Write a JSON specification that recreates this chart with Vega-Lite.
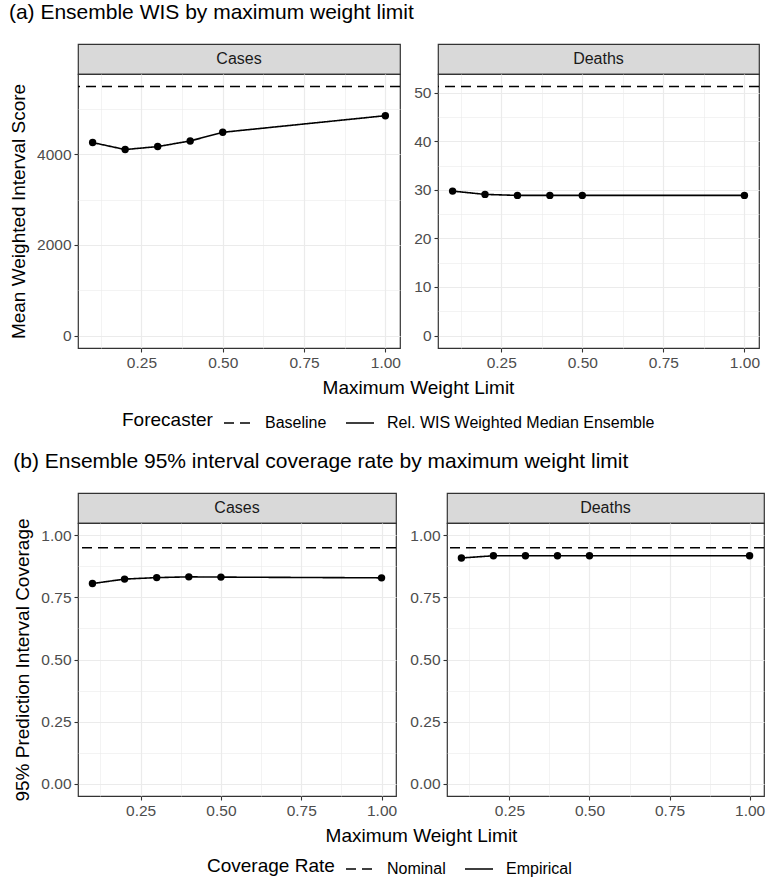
{
  "$schema": "https://vega.github.io/schema/vega-lite/v6.json",
  "background": "white",
  "padding": {"left": 8, "top": 2, "right": 5, "bottom": 0},
  "spacing": 20,
  "datasets": {
    "wis": [
      {"target": "Cases", "forecaster": "Rel. WIS Weighted Median Ensemble", "limit": 0.1, "score": 4257},
      {"target": "Cases", "forecaster": "Rel. WIS Weighted Median Ensemble", "limit": 0.2, "score": 4103},
      {"target": "Cases", "forecaster": "Rel. WIS Weighted Median Ensemble", "limit": 0.3, "score": 4169},
      {"target": "Cases", "forecaster": "Rel. WIS Weighted Median Ensemble", "limit": 0.4, "score": 4293},
      {"target": "Cases", "forecaster": "Rel. WIS Weighted Median Ensemble", "limit": 0.5, "score": 4484},
      {"target": "Cases", "forecaster": "Rel. WIS Weighted Median Ensemble", "limit": 1.0, "score": 4850},
      {"target": "Cases", "forecaster": "Baseline", "limit": null, "score": 5495},
      {"target": "Deaths", "forecaster": "Rel. WIS Weighted Median Ensemble", "limit": 0.1, "score": 29.75},
      {"target": "Deaths", "forecaster": "Rel. WIS Weighted Median Ensemble", "limit": 0.2, "score": 29.07},
      {"target": "Deaths", "forecaster": "Rel. WIS Weighted Median Ensemble", "limit": 0.3, "score": 28.86},
      {"target": "Deaths", "forecaster": "Rel. WIS Weighted Median Ensemble", "limit": 0.4, "score": 28.86},
      {"target": "Deaths", "forecaster": "Rel. WIS Weighted Median Ensemble", "limit": 0.5, "score": 28.86},
      {"target": "Deaths", "forecaster": "Rel. WIS Weighted Median Ensemble", "limit": 1.0, "score": 28.86},
      {"target": "Deaths", "forecaster": "Baseline", "limit": null, "score": 51.3}
    ],
    "cov": [
      {"target": "Cases", "rate": "Empirical", "limit": 0.1, "coverage": 0.806},
      {"target": "Cases", "rate": "Empirical", "limit": 0.2, "coverage": 0.824},
      {"target": "Cases", "rate": "Empirical", "limit": 0.3, "coverage": 0.830},
      {"target": "Cases", "rate": "Empirical", "limit": 0.4, "coverage": 0.833},
      {"target": "Cases", "rate": "Empirical", "limit": 0.5, "coverage": 0.832},
      {"target": "Cases", "rate": "Empirical", "limit": 1.0, "coverage": 0.829},
      {"target": "Cases", "rate": "Nominal", "limit": null, "coverage": 0.95},
      {"target": "Deaths", "rate": "Empirical", "limit": 0.1, "coverage": 0.909},
      {"target": "Deaths", "rate": "Empirical", "limit": 0.2, "coverage": 0.918},
      {"target": "Deaths", "rate": "Empirical", "limit": 0.3, "coverage": 0.918},
      {"target": "Deaths", "rate": "Empirical", "limit": 0.4, "coverage": 0.918},
      {"target": "Deaths", "rate": "Empirical", "limit": 0.5, "coverage": 0.918},
      {"target": "Deaths", "rate": "Empirical", "limit": 1.0, "coverage": 0.918},
      {"target": "Deaths", "rate": "Nominal", "limit": null, "coverage": 0.95}
    ]
  },
  "vconcat": [
    {
      "title": {"text": "(a) Ensemble WIS by maximum weight limit", "anchor": "start", "fontSize": 21, "fontWeight": "normal", "color": "black", "offset": 20},
      "columns": 2,
      "bounds": "flush",
      "spacing": {"row": 0, "column": 38},
      "concat": [
        {
          "width": 322, "height": 30,
          "data": {"values": [{"panel": "Cases"}]},
          "view": {"fill": "#D9D9D9", "stroke": "#333333", "strokeWidth": 1.2},
          "mark": {"type": "text", "fontSize": 16, "color": "#1A1A1A"},
          "encoding": {"text": {"field": "panel", "type": "nominal"}}
        },
        {
          "width": 321, "height": 30,
          "data": {"values": [{"panel": "Deaths"}]},
          "view": {"fill": "#D9D9D9", "stroke": "#333333", "strokeWidth": 1.2},
          "mark": {"type": "text", "fontSize": 16, "color": "#1A1A1A"},
          "encoding": {"text": {"field": "panel", "type": "nominal"}}
        },
        {
          "width": 322, "height": 274,
          "data": {"name": "wis"},
          "transform": [{"filter": "datum.target === 'Cases'"}],
          "view": {"stroke": "#333333", "strokeWidth": 1.2},
          "encoding": {
            "y": {"field": "score", "type": "quantitative", "scale": {"domain": [-274.75, 5769.75], "nice": false, "zero": false},
              "axis": {"title": "Mean Weighted Interval Score", "values": [0, 1000, 2000, 3000, 4000, 5000], "format": "d",
                "gridWidth": {"condition": {"test": "datum.value % 2000 !== 0", "value": 0.6}, "value": 1.2},
                "tickOpacity": {"condition": {"test": "datum.value % 2000 !== 0", "value": 0}, "value": 1},
                "labelOpacity": {"condition": {"test": "datum.value % 2000 !== 0", "value": 0}, "value": 1}}}
          },
          "layer": [
            {"transform": [{"filter": "datum.forecaster === 'Baseline'"}], "mark": {"type": "rule", "color": "black", "strokeWidth": 1.6},
              "encoding": {"strokeDash": {"field": "forecaster", "type": "nominal", "scale": {"domain": ["Baseline", "Rel. WIS Weighted Median Ensemble"], "range": [[10, 6], [1, 0]]},
                "legend": {"title": "Forecaster", "orient": "none", "legendX": 44, "legendY": 364, "direction": "horizontal", "titleOrient": "left", "symbolSize": 784, "symbolStrokeWidth": 1.6, "labelOffset": 12, "labelLimit": 500, "columnPadding": 15, "titlePadding": 10}}}},
            {"transform": [{"filter": "datum.forecaster !== 'Baseline'"}], "mark": {"type": "line", "color": "black", "strokeWidth": 1.6},
              "encoding": {
                "x": {"field": "limit", "type": "quantitative", "scale": {"domain": [0.055, 1.045], "nice": false, "zero": false},
                  "axis": {"title": "Maximum Weight Limit", "titleX": 340, "titleAnchor": "middle", "values": [0.125, 0.25, 0.375, 0.5, 0.625, 0.75, 0.875, 1.0], "format": ".2f",
                    "gridWidth": {"condition": {"test": "(datum.value * 4) % 1 !== 0", "value": 0.6}, "value": 1.2},
                    "tickOpacity": {"condition": {"test": "(datum.value * 4) % 1 !== 0", "value": 0}, "value": 1},
                    "labelOpacity": {"condition": {"test": "(datum.value * 4) % 1 !== 0", "value": 0}, "value": 1}}},
                "strokeDash": {"field": "forecaster", "type": "nominal", "scale": {"domain": ["Baseline", "Rel. WIS Weighted Median Ensemble"], "range": [[10, 6], [1, 0]]},
                "legend": {"title": "Forecaster", "orient": "none", "legendX": 44, "legendY": 364, "direction": "horizontal", "titleOrient": "left", "symbolSize": 784, "symbolStrokeWidth": 1.6, "labelOffset": 12, "labelLimit": 500, "columnPadding": 15, "titlePadding": 10}}}},
            {"transform": [{"filter": "datum.forecaster !== 'Baseline'"}], "mark": {"type": "point", "filled": true, "color": "black", "size": 55, "opacity": 1},
              "encoding": {
                "x": {"field": "limit", "type": "quantitative", "scale": {"domain": [0.055, 1.045], "nice": false, "zero": false},
                  "axis": {"title": "Maximum Weight Limit", "titleX": 340, "titleAnchor": "middle", "values": [0.125, 0.25, 0.375, 0.5, 0.625, 0.75, 0.875, 1.0], "format": ".2f",
                    "gridWidth": {"condition": {"test": "(datum.value * 4) % 1 !== 0", "value": 0.6}, "value": 1.2},
                    "tickOpacity": {"condition": {"test": "(datum.value * 4) % 1 !== 0", "value": 0}, "value": 1},
                    "labelOpacity": {"condition": {"test": "(datum.value * 4) % 1 !== 0", "value": 0}, "value": 1}}}}}
          ]
        },
        {
          "width": 321, "height": 274,
          "data": {"name": "wis"},
          "transform": [{"filter": "datum.target === 'Deaths'"}],
          "view": {"stroke": "#333333", "strokeWidth": 1.2},
          "encoding": {
            "y": {"field": "score", "type": "quantitative", "scale": {"domain": [-2.565, 53.865], "nice": false, "zero": false},
              "axis": {"title": null, "values": [0, 5, 10, 15, 20, 25, 30, 35, 40, 45, 50], "format": "d",
                "gridWidth": {"condition": {"test": "datum.value % 10 !== 0", "value": 0.6}, "value": 1.2},
                "tickOpacity": {"condition": {"test": "datum.value % 10 !== 0", "value": 0}, "value": 1},
                "labelOpacity": {"condition": {"test": "datum.value % 10 !== 0", "value": 0}, "value": 1}}}
          },
          "layer": [
            {"transform": [{"filter": "datum.forecaster === 'Baseline'"}], "mark": {"type": "rule", "color": "black", "strokeWidth": 1.6},
              "encoding": {"strokeDash": {"field": "forecaster", "type": "nominal", "scale": {"domain": ["Baseline", "Rel. WIS Weighted Median Ensemble"], "range": [[10, 6], [1, 0]]},
                "legend": {"title": "Forecaster", "orient": "none", "legendX": 44, "legendY": 364, "direction": "horizontal", "titleOrient": "left", "symbolSize": 784, "symbolStrokeWidth": 1.6, "labelOffset": 12, "labelLimit": 500, "columnPadding": 15, "titlePadding": 10}}}},
            {"transform": [{"filter": "datum.forecaster !== 'Baseline'"}], "mark": {"type": "line", "color": "black", "strokeWidth": 1.6},
              "encoding": {
                "x": {"field": "limit", "type": "quantitative", "scale": {"domain": [0.055, 1.045], "nice": false, "zero": false},
                  "axis": {"title": null, "values": [0.125, 0.25, 0.375, 0.5, 0.625, 0.75, 0.875, 1.0], "format": ".2f",
                    "gridWidth": {"condition": {"test": "(datum.value * 4) % 1 !== 0", "value": 0.6}, "value": 1.2},
                    "tickOpacity": {"condition": {"test": "(datum.value * 4) % 1 !== 0", "value": 0}, "value": 1},
                    "labelOpacity": {"condition": {"test": "(datum.value * 4) % 1 !== 0", "value": 0}, "value": 1}}},
                "strokeDash": {"field": "forecaster", "type": "nominal", "scale": {"domain": ["Baseline", "Rel. WIS Weighted Median Ensemble"], "range": [[10, 6], [1, 0]]},
                "legend": {"title": "Forecaster", "orient": "none", "legendX": 44, "legendY": 364, "direction": "horizontal", "titleOrient": "left", "symbolSize": 784, "symbolStrokeWidth": 1.6, "labelOffset": 12, "labelLimit": 500, "columnPadding": 15, "titlePadding": 10}}}},
            {"transform": [{"filter": "datum.forecaster !== 'Baseline'"}], "mark": {"type": "point", "filled": true, "color": "black", "size": 55, "opacity": 1},
              "encoding": {
                "x": {"field": "limit", "type": "quantitative", "scale": {"domain": [0.055, 1.045], "nice": false, "zero": false},
                  "axis": {"title": null, "values": [0.125, 0.25, 0.375, 0.5, 0.625, 0.75, 0.875, 1.0], "format": ".2f",
                    "gridWidth": {"condition": {"test": "(datum.value * 4) % 1 !== 0", "value": 0.6}, "value": 1.2},
                    "tickOpacity": {"condition": {"test": "(datum.value * 4) % 1 !== 0", "value": 0}, "value": 1},
                    "labelOpacity": {"condition": {"test": "(datum.value * 4) % 1 !== 0", "value": 0}, "value": 1}}}}}
          ]
        }
      ]
    },
    {
      "title": {"text": "(b) Ensemble 95% interval coverage rate by maximum weight limit", "anchor": "start", "fontSize": 21, "fontWeight": "normal", "color": "black", "offset": 20},
      "columns": 2,
      "bounds": "flush",
      "spacing": {"row": 0, "column": 51},
      "concat": [
        {
          "width": 318, "height": 30,
          "data": {"values": [{"panel": "Cases"}]},
          "view": {"fill": "#D9D9D9", "stroke": "#333333", "strokeWidth": 1.2},
          "mark": {"type": "text", "fontSize": 16, "color": "#1A1A1A"},
          "encoding": {"text": {"field": "panel", "type": "nominal"}}
        },
        {
          "width": 317, "height": 30,
          "data": {"values": [{"panel": "Deaths"}]},
          "view": {"fill": "#D9D9D9", "stroke": "#333333", "strokeWidth": 1.2},
          "mark": {"type": "text", "fontSize": 16, "color": "#1A1A1A"},
          "encoding": {"text": {"field": "panel", "type": "nominal"}}
        },
        {
          "width": 318, "height": 273,
          "data": {"name": "cov"},
          "transform": [{"filter": "datum.target === 'Cases'"}],
          "view": {"stroke": "#333333", "strokeWidth": 1.2},
          "encoding": {
            "y": {"field": "coverage", "type": "quantitative", "scale": {"domain": [-0.05, 1.05], "nice": false, "zero": false},
              "axis": {"title": "95% Prediction Interval Coverage", "values": [0, 0.125, 0.25, 0.375, 0.5, 0.625, 0.75, 0.875, 1.0], "format": ".2f",
                "gridWidth": {"condition": {"test": "(datum.value * 4) % 1 !== 0", "value": 0.6}, "value": 1.2},
                "tickOpacity": {"condition": {"test": "(datum.value * 4) % 1 !== 0", "value": 0}, "value": 1},
                "labelOpacity": {"condition": {"test": "(datum.value * 4) % 1 !== 0", "value": 0}, "value": 1}}}
          },
          "layer": [
            {"transform": [{"filter": "datum.rate === 'Nominal'"}], "mark": {"type": "rule", "color": "black", "strokeWidth": 1.6},
              "encoding": {"strokeDash": {"field": "rate", "type": "nominal", "scale": {"domain": ["Nominal", "Empirical"], "range": [[10, 6], [1, 0]]},
                "legend": {"title": "Coverage Rate", "orient": "none", "legendX": 129, "legendY": 361, "direction": "horizontal", "titleOrient": "left", "symbolSize": 784, "symbolStrokeWidth": 1.6, "labelOffset": 12, "labelLimit": 500, "columnPadding": 15, "titlePadding": 10}}}},
            {"transform": [{"filter": "datum.rate !== 'Nominal'"}], "mark": {"type": "line", "color": "black", "strokeWidth": 1.6},
              "encoding": {
                "x": {"field": "limit", "type": "quantitative", "scale": {"domain": [0.055, 1.045], "nice": false, "zero": false},
                  "axis": {"title": "Maximum Weight Limit", "titleX": 343, "titleAnchor": "middle", "values": [0.125, 0.25, 0.375, 0.5, 0.625, 0.75, 0.875, 1.0], "format": ".2f",
                    "gridWidth": {"condition": {"test": "(datum.value * 4) % 1 !== 0", "value": 0.6}, "value": 1.2},
                    "tickOpacity": {"condition": {"test": "(datum.value * 4) % 1 !== 0", "value": 0}, "value": 1},
                    "labelOpacity": {"condition": {"test": "(datum.value * 4) % 1 !== 0", "value": 0}, "value": 1}}},
                "strokeDash": {"field": "rate", "type": "nominal", "scale": {"domain": ["Nominal", "Empirical"], "range": [[10, 6], [1, 0]]},
                "legend": {"title": "Coverage Rate", "orient": "none", "legendX": 129, "legendY": 361, "direction": "horizontal", "titleOrient": "left", "symbolSize": 784, "symbolStrokeWidth": 1.6, "labelOffset": 12, "labelLimit": 500, "columnPadding": 15, "titlePadding": 10}}}},
            {"transform": [{"filter": "datum.rate !== 'Nominal'"}], "mark": {"type": "point", "filled": true, "color": "black", "size": 55, "opacity": 1},
              "encoding": {
                "x": {"field": "limit", "type": "quantitative", "scale": {"domain": [0.055, 1.045], "nice": false, "zero": false},
                  "axis": {"title": "Maximum Weight Limit", "titleX": 343, "titleAnchor": "middle", "values": [0.125, 0.25, 0.375, 0.5, 0.625, 0.75, 0.875, 1.0], "format": ".2f",
                    "gridWidth": {"condition": {"test": "(datum.value * 4) % 1 !== 0", "value": 0.6}, "value": 1.2},
                    "tickOpacity": {"condition": {"test": "(datum.value * 4) % 1 !== 0", "value": 0}, "value": 1},
                    "labelOpacity": {"condition": {"test": "(datum.value * 4) % 1 !== 0", "value": 0}, "value": 1}}}}}
          ]
        },
        {
          "width": 317, "height": 273,
          "data": {"name": "cov"},
          "transform": [{"filter": "datum.target === 'Deaths'"}],
          "view": {"stroke": "#333333", "strokeWidth": 1.2},
          "encoding": {
            "y": {"field": "coverage", "type": "quantitative", "scale": {"domain": [-0.05, 1.05], "nice": false, "zero": false},
              "axis": {"title": null, "values": [0, 0.125, 0.25, 0.375, 0.5, 0.625, 0.75, 0.875, 1.0], "format": ".2f",
                "gridWidth": {"condition": {"test": "(datum.value * 4) % 1 !== 0", "value": 0.6}, "value": 1.2},
                "tickOpacity": {"condition": {"test": "(datum.value * 4) % 1 !== 0", "value": 0}, "value": 1},
                "labelOpacity": {"condition": {"test": "(datum.value * 4) % 1 !== 0", "value": 0}, "value": 1}}}
          },
          "layer": [
            {"transform": [{"filter": "datum.rate === 'Nominal'"}], "mark": {"type": "rule", "color": "black", "strokeWidth": 1.6},
              "encoding": {"strokeDash": {"field": "rate", "type": "nominal", "scale": {"domain": ["Nominal", "Empirical"], "range": [[10, 6], [1, 0]]},
                "legend": {"title": "Coverage Rate", "orient": "none", "legendX": 129, "legendY": 361, "direction": "horizontal", "titleOrient": "left", "symbolSize": 784, "symbolStrokeWidth": 1.6, "labelOffset": 12, "labelLimit": 500, "columnPadding": 15, "titlePadding": 10}}}},
            {"transform": [{"filter": "datum.rate !== 'Nominal'"}], "mark": {"type": "line", "color": "black", "strokeWidth": 1.6},
              "encoding": {
                "x": {"field": "limit", "type": "quantitative", "scale": {"domain": [0.055, 1.045], "nice": false, "zero": false},
                  "axis": {"title": null, "values": [0.125, 0.25, 0.375, 0.5, 0.625, 0.75, 0.875, 1.0], "format": ".2f",
                    "gridWidth": {"condition": {"test": "(datum.value * 4) % 1 !== 0", "value": 0.6}, "value": 1.2},
                    "tickOpacity": {"condition": {"test": "(datum.value * 4) % 1 !== 0", "value": 0}, "value": 1},
                    "labelOpacity": {"condition": {"test": "(datum.value * 4) % 1 !== 0", "value": 0}, "value": 1}}},
                "strokeDash": {"field": "rate", "type": "nominal", "scale": {"domain": ["Nominal", "Empirical"], "range": [[10, 6], [1, 0]]},
                "legend": {"title": "Coverage Rate", "orient": "none", "legendX": 129, "legendY": 361, "direction": "horizontal", "titleOrient": "left", "symbolSize": 784, "symbolStrokeWidth": 1.6, "labelOffset": 12, "labelLimit": 500, "columnPadding": 15, "titlePadding": 10}}}},
            {"transform": [{"filter": "datum.rate !== 'Nominal'"}], "mark": {"type": "point", "filled": true, "color": "black", "size": 55, "opacity": 1},
              "encoding": {
                "x": {"field": "limit", "type": "quantitative", "scale": {"domain": [0.055, 1.045], "nice": false, "zero": false},
                  "axis": {"title": null, "values": [0.125, 0.25, 0.375, 0.5, 0.625, 0.75, 0.875, 1.0], "format": ".2f",
                    "gridWidth": {"condition": {"test": "(datum.value * 4) % 1 !== 0", "value": 0.6}, "value": 1.2},
                    "tickOpacity": {"condition": {"test": "(datum.value * 4) % 1 !== 0", "value": 0}, "value": 1},
                    "labelOpacity": {"condition": {"test": "(datum.value * 4) % 1 !== 0", "value": 0}, "value": 1}}}}}
          ]
        }
      ]
    }
  ],
  "resolve": {"scale": {"strokeDash": "independent"}, "legend": {"strokeDash": "independent"}},
  "config": {
    "font": "Liberation Sans",
    "view": {"stroke": "#333333", "strokeWidth": 1.2},
    "title": {"font": "Liberation Sans"},
    "axis": {
      "labelFont": "Liberation Sans", "labelFontSize": 15.5, "labelColor": "#4D4D4D",
      "titleFont": "Liberation Sans", "titleFontSize": 19, "titleFontWeight": "normal", "titleColor": "black",
      "tickColor": "#333333", "tickSize": 4, "tickWidth": 1.1, "labelPadding": 3, "titlePadding": 8,
      "domain": false, "grid": true, "gridColor": "#EBEBEB", "labelOverlap": false, "labelFlush": false
    },
    "legend": {
      "titleFont": "Liberation Sans", "titleFontSize": 19, "titleFontWeight": "normal", "titleColor": "black",
      "labelFont": "Liberation Sans", "labelFontSize": 16, "labelColor": "black"
    }
  }
}
